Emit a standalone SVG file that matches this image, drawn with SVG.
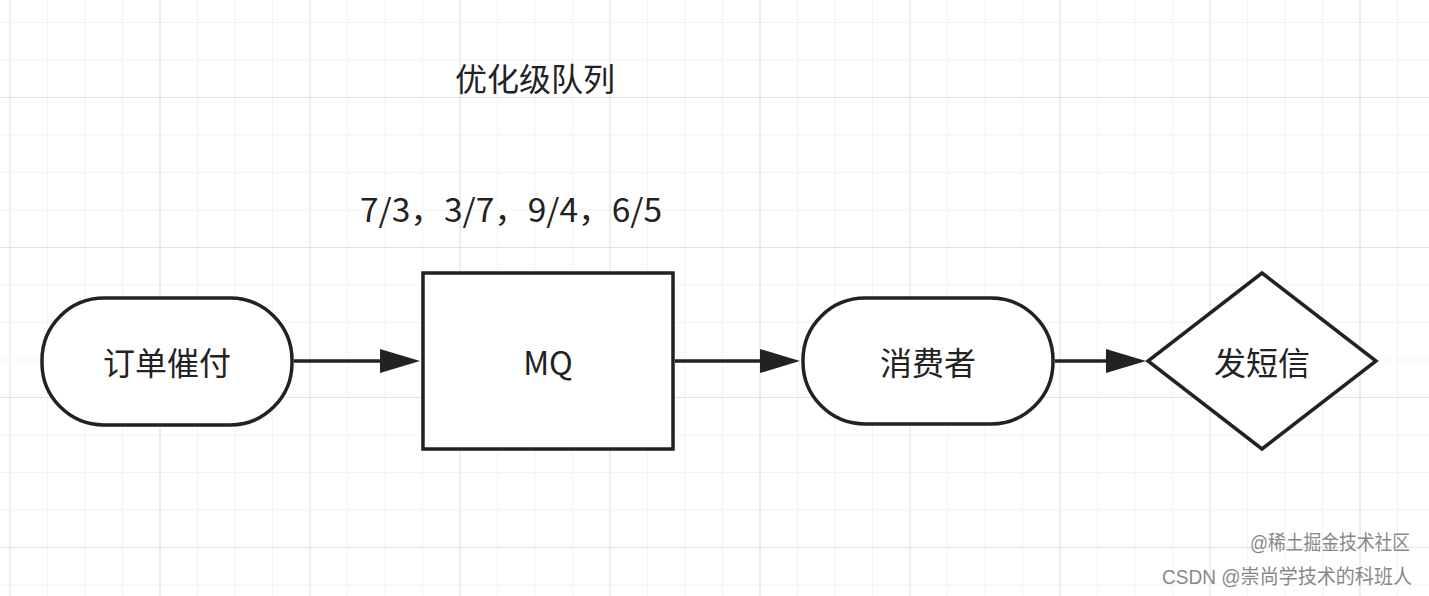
<svg xmlns="http://www.w3.org/2000/svg" width="1429" height="596" viewBox="0 0 1429 596">
<defs>
<pattern id="g" width="37.5" height="37.5" patternUnits="userSpaceOnUse" x="9.5" y="22">
<path d="M0 0H37.5M0 0V37.5" fill="none" stroke="#f0f0f0" stroke-width="1.5"/>
</pattern>
<pattern id="G" width="150" height="150" patternUnits="userSpaceOnUse" x="9.5" y="97">
<path d="M0 0H150M0 0V150" fill="none" stroke="#e2e2e2" stroke-width="2"/>
</pattern>
</defs>
<style>
.s{fill:#fff;stroke:#222;stroke-width:3.5}
.t{font-family:"Noto Sans CJK SC","Liberation Sans",sans-serif;font-size:32px;fill:#222;text-anchor:middle;dominant-baseline:central}
.c{stroke:#222;stroke-width:3.5;fill:none}
.w{font-family:"Liberation Sans","Noto Sans CJK SC",sans-serif;font-size:20px;fill:#888}
</style>
<rect width="1429" height="596" fill="#fff"/>
<rect width="1429" height="596" fill="url(#g)"/>
<rect width="1429" height="596" fill="url(#G)"/>
<text class="t" x="535" y="77">优化级队列</text>
<text class="t" x="511" y="208" textLength="302" lengthAdjust="spacingAndGlyphs">7/3，3/7，9/4，6/5</text>
<g id="n1"><rect class="s" x="42" y="298" width="250" height="127" rx="62"/><text class="t" x="167" y="361">订单催付</text></g>
<g id="n2"><rect class="s" x="423" y="273" width="250" height="176"/><text class="t" x="548" y="361">MQ</text></g>
<g id="n3"><rect class="s" x="803" y="298" width="250" height="126" rx="62"/><text class="t" x="928" y="361">消费者</text></g>
<g id="n4"><path class="s" d="M1262 273L1376 361L1262 449L1148 361Z"/><text class="t" x="1262" y="361">发短信</text></g>
<g id="edges">
<path class="c" d="M294 361H382"/><path d="M380 349L420 361L380 373Z" fill="#222"/>
<path class="c" d="M675 361H762"/><path d="M760 349L800 361L760 373Z" fill="#222"/>
<path class="c" d="M1055 361H1108"/><path d="M1106 349L1146 361L1106 373Z" fill="#222"/>
</g>
<text class="w" x="1250" y="550" textLength="160" lengthAdjust="spacingAndGlyphs">@稀土掘金技术社区</text>
<text class="w" x="1162" y="584" textLength="250" lengthAdjust="spacingAndGlyphs">CSDN @崇尚学技术的科班人</text>
</svg>
